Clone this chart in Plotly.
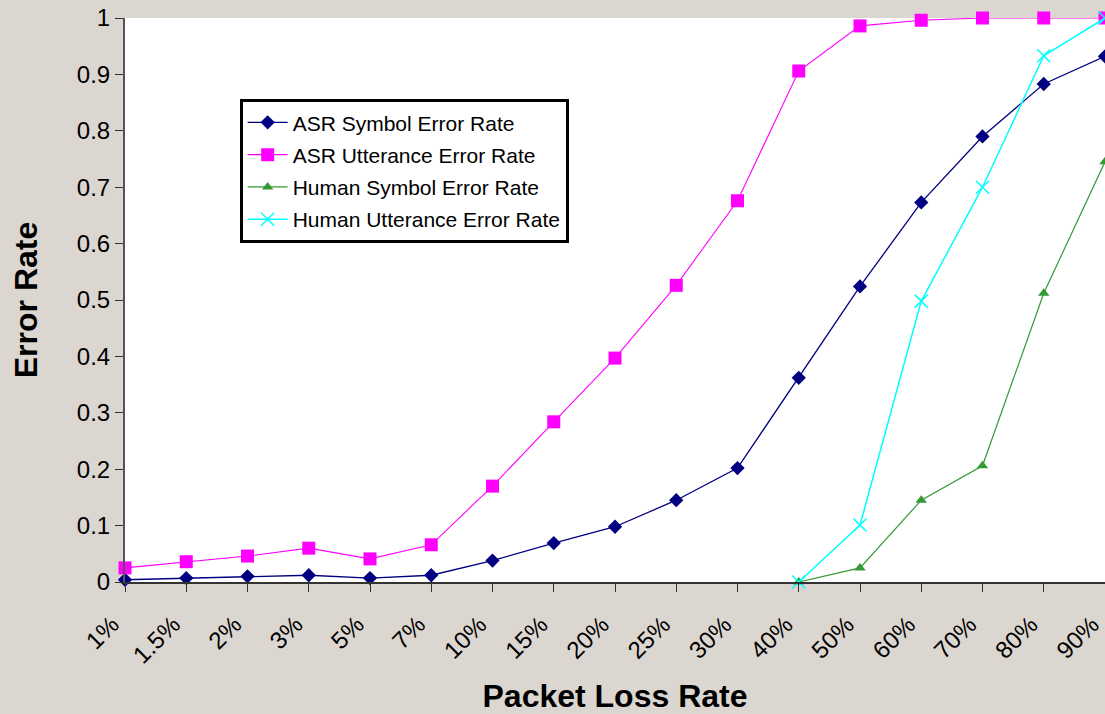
import plotly.graph_objects as go

categories = ["1%", "1.5%", "2%", "3%", "5%", "7%", "10%", "15%", "20%", "25%",
              "30%", "40%", "50%", "60%", "70%", "80%", "90%"]

asr_symbol = [0.004, 0.007, 0.010, 0.012, 0.007, 0.012, 0.038, 0.069, 0.098, 0.145,
              0.202, 0.362, 0.524, 0.673, 0.790, 0.883, 0.932]
asr_utterance = [0.025, 0.036, 0.046, 0.060, 0.041, 0.066, 0.170, 0.284, 0.397, 0.526,
                 0.676, 0.906, 0.986, 0.996, 1.000, 1.000, 1.000]
human_symbol = [None, None, None, None, None, None, None, None, None, None,
                None, 0.000, 0.025, 0.145, 0.206, 0.512, 0.745]
human_utterance = [None, None, None, None, None, None, None, None, None, None,
                   None, 0.000, 0.101, 0.498, 0.700, 0.933, 1.000]

y_ticks = [0, 0.1, 0.2, 0.3, 0.4, 0.5, 0.6, 0.7, 0.8, 0.9, 1]
y_ticktext = ["0", "0.1", "0.2", "0.3", "0.4", "0.5", "0.6", "0.7", "0.8", "0.9", "1"]

FONT = "Liberation Sans, Arial, sans-serif"
BG = "#dcd6d0"

fig = go.Figure()

series = [
    ("ASR Symbol Error Rate", asr_symbol, "#000080", "#000080", "diamond", 11, 1.3),
    ("ASR Utterance Error Rate", asr_utterance, "#ff00ff", "#ff00ff", "square", 13, 1.1),
    ("Human Symbol Error Rate", human_symbol, "#339933", "#339933", "triangle-up", 10, 1.2),
    ("Human Utterance Error Rate", human_utterance, "#00ffff", "#00ffff", "x-thin-open", 13, 1.5),
]

for i, (name, vals, lc, mc, sym, msize, lw) in enumerate(series):
    marker = dict(symbol=sym, size=msize, color=mc)
    if sym == "x-thin-open":
        marker["line"] = dict(color=mc, width=1.5)
    else:
        marker["line"] = dict(width=0)
    fig.add_trace(go.Scatter(
        x=categories, y=vals, name=name, mode="lines+markers",
        line=dict(color=lc, width=lw), marker=marker,
        connectgaps=False, cliponaxis=False, legendgroup=f"g{i}",
    ))

fig.update_layout(
    width=1105, height=714,
    paper_bgcolor=BG, plot_bgcolor="white",
    margin=dict(l=125, r=0, t=18, b=132),
    font=dict(family=FONT, color="black"),
    showlegend=True,
    legend=dict(
        x=0.117, y=0.856, xanchor="left", yanchor="top",
        bgcolor="white", bordercolor="black", borderwidth=3,
        font=dict(family=FONT, size=21, color="black"),
        tracegroupgap=2, itemwidth=40,
    ),
    xaxis=dict(
        type="category", categoryorder="array", categoryarray=categories,
        range=[0, len(categories) - 1],
        showgrid=False, zeroline=False,
        showline=True, linecolor="#333333", linewidth=2,
        ticks="outside", ticklen=8, tickcolor="#333333", tickwidth=1.3,
        tickangle=-45, tickfont=dict(family=FONT, size=24, color="black"),
        ticklabelshift=-13, ticklabelstandoff=9,
        title=dict(text="<b>Packet Loss Rate</b>", font=dict(family=FONT, size=32, color="black"),
                   standoff=17),
    ),
    yaxis=dict(
        range=[0, 1], tickvals=y_ticks, ticktext=y_ticktext,
        showgrid=False, zeroline=False,
        showline=True, linecolor="#555555", linewidth=2,
        ticks="outside", ticklen=8, tickcolor="#333333", tickwidth=1.3,
        tickfont=dict(family=FONT, size=24, color="black"),
        title=dict(text="<b>Error Rate</b>", font=dict(family=FONT, size=32, color="black"),
                   standoff=30),
    ),
    xaxis2=dict(
        overlaying="x", side="bottom", anchor="y",
        range=[0, len(categories) - 1], tickvals=list(range(len(categories))),
        showticklabels=False, showgrid=False, zeroline=False, showline=False,
        ticks="inside", ticklen=8, tickcolor="#333333", tickwidth=1.3,
    ),
    xaxis3=dict(
        overlaying="x", side="top", anchor="y",
        range=[0, 1], showticklabels=False, showgrid=False, zeroline=False,
        showline=True, linecolor="#aaaaaa", linewidth=1.5, ticks="",
    ),
    yaxis2=dict(
        overlaying="y", side="left", anchor="x",
        range=[0, 1], tickvals=y_ticks,
        showticklabels=False, showgrid=False, zeroline=False, showline=False,
        ticks="inside", ticklen=8, tickcolor="#333333", tickwidth=1.3,
    ),
)

fig.write_html(
    "out.html",
    config={"displayModeBar": False},
    post_script="document.body.style.margin='0';document.body.style.padding='0';"
                "document.body.style.overflow='hidden';",
)
